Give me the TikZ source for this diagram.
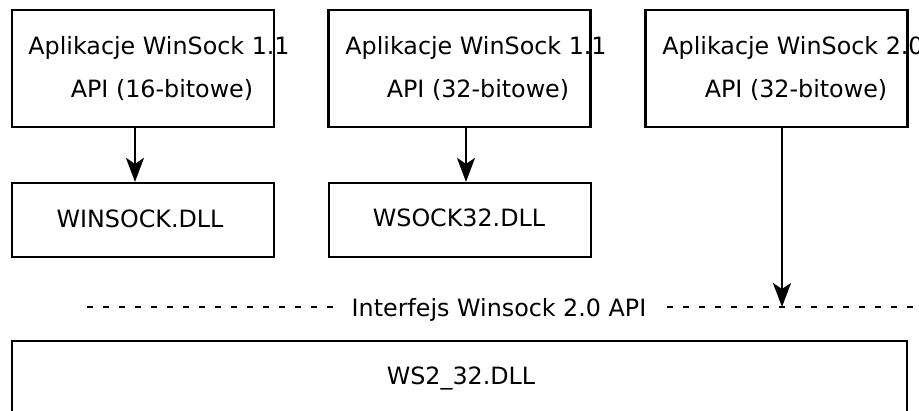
\documentclass[tikz,border=0pt]{standalone}
\usepackage{fontspec}
\setmainfont{DejaVu Sans}
\usetikzlibrary{arrows.meta}
\begin{document}
\begin{tikzpicture}[x=1pt,y=-1pt,
  box/.style={draw, line width=2.2pt, rectangle, inner sep=0pt},
  lbl/.style={font=\fontsize{23.8}{28}\selectfont, anchor=base, inner sep=0pt},
  conn/.style={line width=2.2pt, -{Stealth[length=24pt,width=18pt,inset=6pt]}},
  dashline/.style={line width=2pt, dash pattern=on 6pt off 10pt}
]
\useasboundingbox (0,0) rectangle (919,411);
\clip (0,0) rectangle (919,411);

% top row
\node[box, minimum width=262pt, minimum height=117pt] (app1) at (143,68.5) {};
\node[box, minimum width=262pt, minimum height=117pt] (app2) at (459.5,68.5) {};
\node[box, minimum width=262pt, minimum height=117pt] (app3) at (776.5,68.5) {};
\node[lbl] (a1l1) at (159,55) {Aplikacje WinSock 1.1};
\node[lbl] (a1l2) at (162,98) {API (16-bitowe)};
\node[lbl] (a2l1) at (476,55) {Aplikacje WinSock 1.1};
\node[lbl] (a2l2) at (478,98) {API (32-bitowe)};
\node[lbl] (a3l1) at (793,55) {Aplikacje WinSock 2.0};
\node[lbl] (a3l2) at (796,98) {API (32-bitowe)};

% second row
\node[box, minimum width=262pt, minimum height=74pt] (dll1) at (143,220) {};
\node[box, minimum width=262pt, minimum height=74pt] (dll2) at (460,220) {};
\node[lbl] (d1t) at (140,228) {WINSOCK.DLL};
\node[lbl] (d2t) at (459,227) {WSOCK32.DLL};

% interface line
\node[lbl] (api) at (499,317) {Interfejs Winsock 2.0 API};
\coordinate (dlA) at (87,307);
\coordinate (dlB) at (333,307);
\coordinate (dlC) at (667,307);
\coordinate (dlD) at (913,307);
\coordinate (apitip) at (782,307);
\draw[dashline] (dlA) -- (dlB);
\draw[dashline] (dlC) -- (dlD);

% bottom box
\node[box, minimum width=895pt, minimum height=100pt] (ws2) at (459.5,391) {};
\node[lbl] (ws2t) at (461,385) {WS2\_32.DLL};

% arrows
\draw[conn] ([xshift=-8pt]app1.south) -- ([xshift=-8pt]dll1.north);
\draw[conn] ([xshift=6.5pt]app2.south) -- ([xshift=6pt]dll2.north);
\draw[conn] ([xshift=5.5pt]app3.south) -- (apitip);
\end{tikzpicture}
\end{document}
